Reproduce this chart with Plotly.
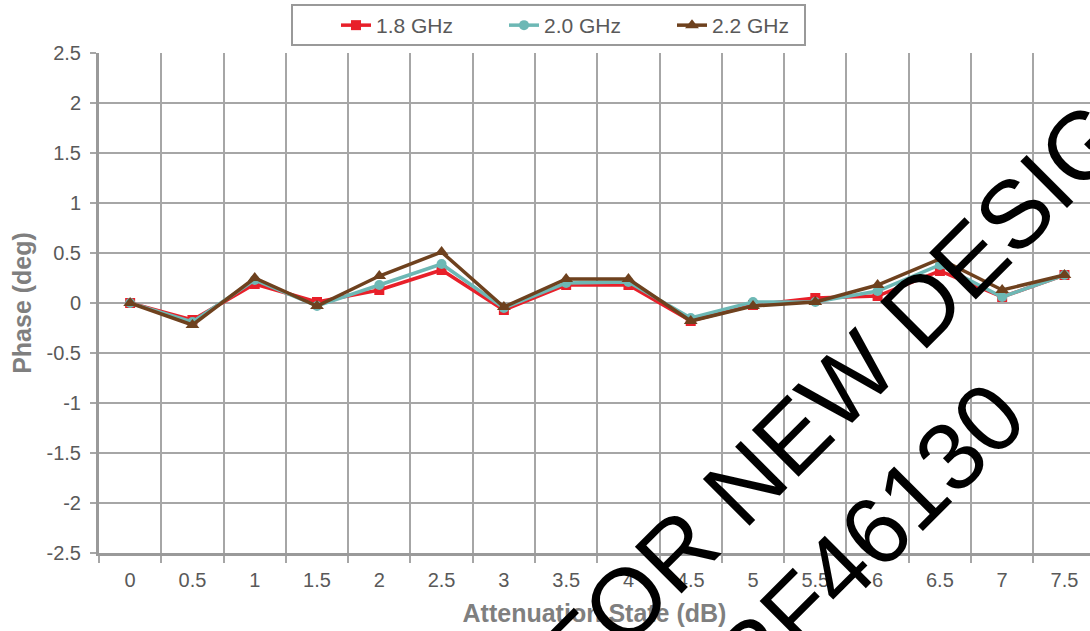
import plotly.graph_objects as go

# Data
att_states = ["0", "0.5", "1", "1.5", "2", "2.5", "3", "3.5", "4", "4.5",
              "5", "5.5", "6", "6.5", "7", "7.5"]
phase_18 = [0.00, -0.17, 0.19, 0.01, 0.13, 0.33, -0.07, 0.18, 0.18, -0.18,
            -0.02, 0.05, 0.07, 0.32, 0.06, 0.28]
phase_20 = [0.00, -0.19, 0.23, -0.03, 0.18, 0.39, -0.05, 0.20, 0.21, -0.15,
            0.01, 0.01, 0.12, 0.38, 0.06, 0.28]
phase_22 = [0.00, -0.22, 0.25, -0.03, 0.27, 0.51, -0.04, 0.24, 0.24, -0.18,
            -0.03, 0.01, 0.18, 0.44, 0.13, 0.28]
y_ticks = [2.5, 2, 1.5, 1, 0.5, 0, -0.5, -1, -1.5, -2, -2.5]
y_ticktext = ["2.5", "2", "1.5", "1", "0.5", "0", "-0.5", "-1", "-1.5", "-2", "-2.5"]

series = [
    ("1.8 GHz", phase_18, "#E8202A", "square", 10),
    ("2.0 GHz", phase_20, "#6DB8B5", "circle", 10),
    ("2.2 GHz", phase_22, "#6E411E", "triangle-up", 12),
]

idx = list(range(len(att_states)))
FONT = "Liberation Sans, Arial, sans-serif"
GREY = "#595959"

# pixel helpers for paper coordinates (plot area: x 99..1090, y 53..553)
def px_x(p):
    return (p - 99) / 991

def px_y(p):
    return (553 - p) / 500

fig = go.Figure()
for name, vals, col, sym, msize in series:
    fig.add_trace(go.Scatter(
        x=idx, y=vals, name=name, mode="lines+markers",
        line=dict(color=col, width=3.5),
        marker=dict(color=col, symbol=sym, size=msize),
    ))

fig.update_layout(
    width=1090, height=631,
    margin=dict(l=99, r=0, t=53, b=78),
    paper_bgcolor="white", plot_bgcolor="white",
    font=dict(family=FONT, size=20, color=GREY),
    hovermode=False,
    showlegend=True,
    legend=dict(
        orientation="h", x=px_x(336), xanchor="left", y=px_y(5), yanchor="top",
        borderwidth=0, bgcolor="rgba(0,0,0,0)",
        font=dict(family=FONT, size=21, color=GREY),
        entrywidth=123, entrywidthmode="pixels",
    ),
    xaxis=dict(
        range=[-0.5, 15.41],
        tickmode="array", tickvals=idx, ticktext=att_states,
        ticks="outside", ticklen=7, tickcolor="rgba(0,0,0,0)",
        showgrid=False, zeroline=False,
        showline=True, linecolor="#9a9a9a", linewidth=3,
        tickfont=dict(family=FONT, size=20, color=GREY),
        minor=dict(tick0=-0.5, dtick=1, showgrid=True, gridcolor="#a6a6a6",
                   gridwidth=2, ticks="outside", ticklen=7, tickcolor="#a6a6a6",
                   tickwidth=2),
        title=dict(text="<b>Attenuation State (dB)</b>",
                   font=dict(family=FONT, size=25, color="#7f7f7f"), standoff=15),
    ),
    yaxis=dict(
        range=[-2.5, 2.5],
        tickmode="array", tickvals=y_ticks, ticktext=y_ticktext,
        ticks="outside", ticklen=6, tickcolor="#a6a6a6", tickwidth=2,
        showgrid=True, gridcolor="#a6a6a6", gridwidth=2, zeroline=False,
        showline=True, linecolor="#9a9a9a", linewidth=3,
        tickfont=dict(family=FONT, size=20, color=GREY),
        ticklabelstandoff=5,
        title=dict(text="<b>Phase (deg)</b>",
                   font=dict(family=FONT, size=25, color="#7f7f7f"), standoff=8),
    ),
)

# Legend frame
fig.add_shape(type="rect", xref="paper", yref="paper",
              x0=px_x(292), x1=px_x(805), y0=px_y(45), y1=px_y(5),
              line=dict(color="#999999", width=2), fillcolor="rgba(0,0,0,0)")

# Watermark
fig.add_annotation(
    text="NOT RECOMMENDED FOR NEW DESIGNS", xref="paper", yref="paper",
    x=px_x(517), y=px_y(710), xanchor="center", yanchor="middle",
    textangle=-45, showarrow=False,
    font=dict(family=FONT, size=96, color="black"),
)
fig.add_annotation(
    text="RF46130", xref="paper", yref="paper",
    x=px_x(867), y=px_y(539), xanchor="center", yanchor="middle",
    textangle=-45, showarrow=False,
    font=dict(family=FONT, size=96, color="black"),
)

fig.write_html("out.html", config={"displayModeBar": False},
               post_script="document.body.style.margin='0';")
